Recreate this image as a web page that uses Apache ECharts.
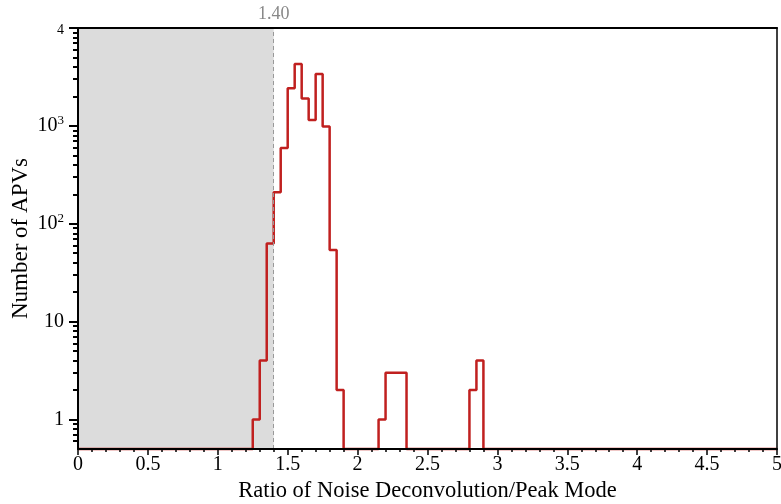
<!DOCTYPE html>
<html>
<head>
<meta charset="utf-8">
<script src="https://cdn.jsdelivr.net/npm/echarts@6/dist/echarts.min.js"></script>
<style>html,body{margin:0;padding:0;background:#fff}#c{width:781px;height:504px}</style>
</head>
<body>
<div id="c"></div>
<script>
// Histogram: bin edges (x) and counts for each [edges[i], edges[i+1]) interval
const edges  = [0, 1.25, 1.30, 1.35, 1.40, 1.45, 1.50, 1.55, 1.60, 1.65, 1.70, 1.75, 1.80, 1.85, 1.90, 2.15, 2.20, 2.35, 2.80, 2.85, 2.90, 5.0];
const counts = [0, 1,    4,    63,   210,  594,  2420, 4280, 1900, 1150, 3390, 985,  54,   2,    0,    1,    3,    0,    2,    4,    0];
const cutValue = 1.40;
const cutLabel = '1.40';
const xTicks = [0, 0.5, 1, 1.5, 2, 2.5, 3, 3.5, 4, 4.5, 5];
const yMajorTicks = [1, 10, 100, 1000, 10000];
const yMin = 0.5, yMax = 10000;
const xName = 'Ratio of Noise Deconvolution/Peak Mode';
const yName = 'Number of APVs';

const yMinorTicks = [];
[0.1, 1, 10, 100, 1000].forEach(d => { for (let k = 2; k <= 9; k++) { const v = +(k * d).toFixed(6); if (v > yMin) yMinorTicks.push(v); } });

const data = counts.map((c, i) => [edges[i], c > 0 ? c : yMin]);
data.push([edges[edges.length - 1], counts[counts.length - 1] > 0 ? counts[counts.length - 1] : yMin]);

const FONT = 'Liberation Serif';
const chart = echarts.init(document.getElementById('c'), null, {renderer: 'canvas'});
const yFmt = v => {
  if (v === 1) return '1';
  if (v === 10) return '10';
  if (v === 10000) return '{t|4}';
  return '{b|10}{s|' + Math.round(Math.log10(v)) + '}';
};
chart.setOption({
  animation: false,
  backgroundColor: '#fff',
  grid: {left: 78, right: 4, top: 28, bottom: 55, containLabel: false, outerBoundsMode: 'none'},
  xAxis: [{
    type: 'value', min: 0, max: 5, interval: 0.5, position: 'bottom', z: 10,
    axisLine: {show: true, onZero: false, lineStyle: {color: '#000', width: 2}},
    axisTick: {show: true, length: 6, lineStyle: {color: '#000', width: 1.5}},
    minorTick: {show: true, splitNumber: 5, length: 3, lineStyle: {color: '#000', width: 1.5}},
    splitLine: {show: false},
    axisLabel: {fontFamily: FONT, fontSize: 20, color: '#000', margin: 6, formatter: v => String(v)},
    name: xName, nameLocation: 'middle', nameGap: 31, nameMoveOverlap: false,
    nameTextStyle: {fontFamily: FONT, fontSize: 22.5, color: '#000'}
  }, {
    type: 'value', min: 0, max: 5, position: 'top', z: 10,
    axisLine: {show: true, onZero: false, lineStyle: {color: '#000', width: 2}},
    axisTick: {show: false}, axisLabel: {show: false}, splitLine: {show: false}
  }],
  yAxis: [{
    type: 'log', min: yMin, max: yMax, logBase: 10, position: 'left', z: 10,
    axisLine: {show: true, onZero: false, lineStyle: {color: '#000', width: 2}},
    axisTick: {show: true, length: 9, customValues: yMajorTicks, lineStyle: {color: '#000', width: 2}},
    splitLine: {show: false},
    axisLabel: {
      customValues: yMajorTicks, margin: 14, formatter: yFmt, color: '#000', fontFamily: FONT, fontSize: 20,
      rich: {
        b: {fontFamily: FONT, fontSize: 20, color: '#000'},
        s: {fontFamily: FONT, fontSize: 13, color: '#000', verticalAlign: 'top', padding: [0, 0, 10, 0]},
        t: {fontFamily: FONT, fontSize: 14, color: '#000', padding: [4, 0, 0, 0]}
      }
    },
    name: yName, nameLocation: 'middle', nameGap: 46, nameMoveOverlap: false,
    nameTextStyle: {fontFamily: FONT, fontSize: 23, color: '#000'}
  }, {
    type: 'log', min: yMin, max: yMax, logBase: 10, position: 'left', z: 10,
    axisLine: {show: false},
    axisTick: {show: true, length: 5, customValues: yMinorTicks, lineStyle: {color: '#000', width: 2}},
    axisLabel: {show: false}, splitLine: {show: false}
  }, {
    type: 'log', min: yMin, max: yMax, logBase: 10, position: 'right', z: 10,
    axisLine: {show: true, onZero: false, lineStyle: {color: '#000', width: 1.5}},
    axisTick: {show: false}, axisLabel: {show: false}, splitLine: {show: false}
  }],
  series: [{
    type: 'line', xAxisIndex: 0, yAxisIndex: 0, z: 1, data: [], silent: true,
    markArea: {
      silent: true,
      itemStyle: {color: '#dcdcdc'},
      data: [[{xAxis: 0}, {xAxis: cutValue}]]
    },
    markLine: {
      silent: true, symbol: 'none',
      lineStyle: {color: '#999', type: [4, 3], width: 1},
      label: {show: true, position: 'end', formatter: cutLabel, color: '#888', fontFamily: FONT, fontSize: 18, distance: 5},
      data: [{xAxis: cutValue}]
    }
  }, {
    type: 'line', xAxisIndex: 0, yAxisIndex: 0, z: 3,
    step: 'end', showSymbol: false, symbol: 'none', clip: false,
    lineStyle: {color: '#c0201f', width: 2.5},
    data: data
  }]
});
</script>
</body>
</html>
